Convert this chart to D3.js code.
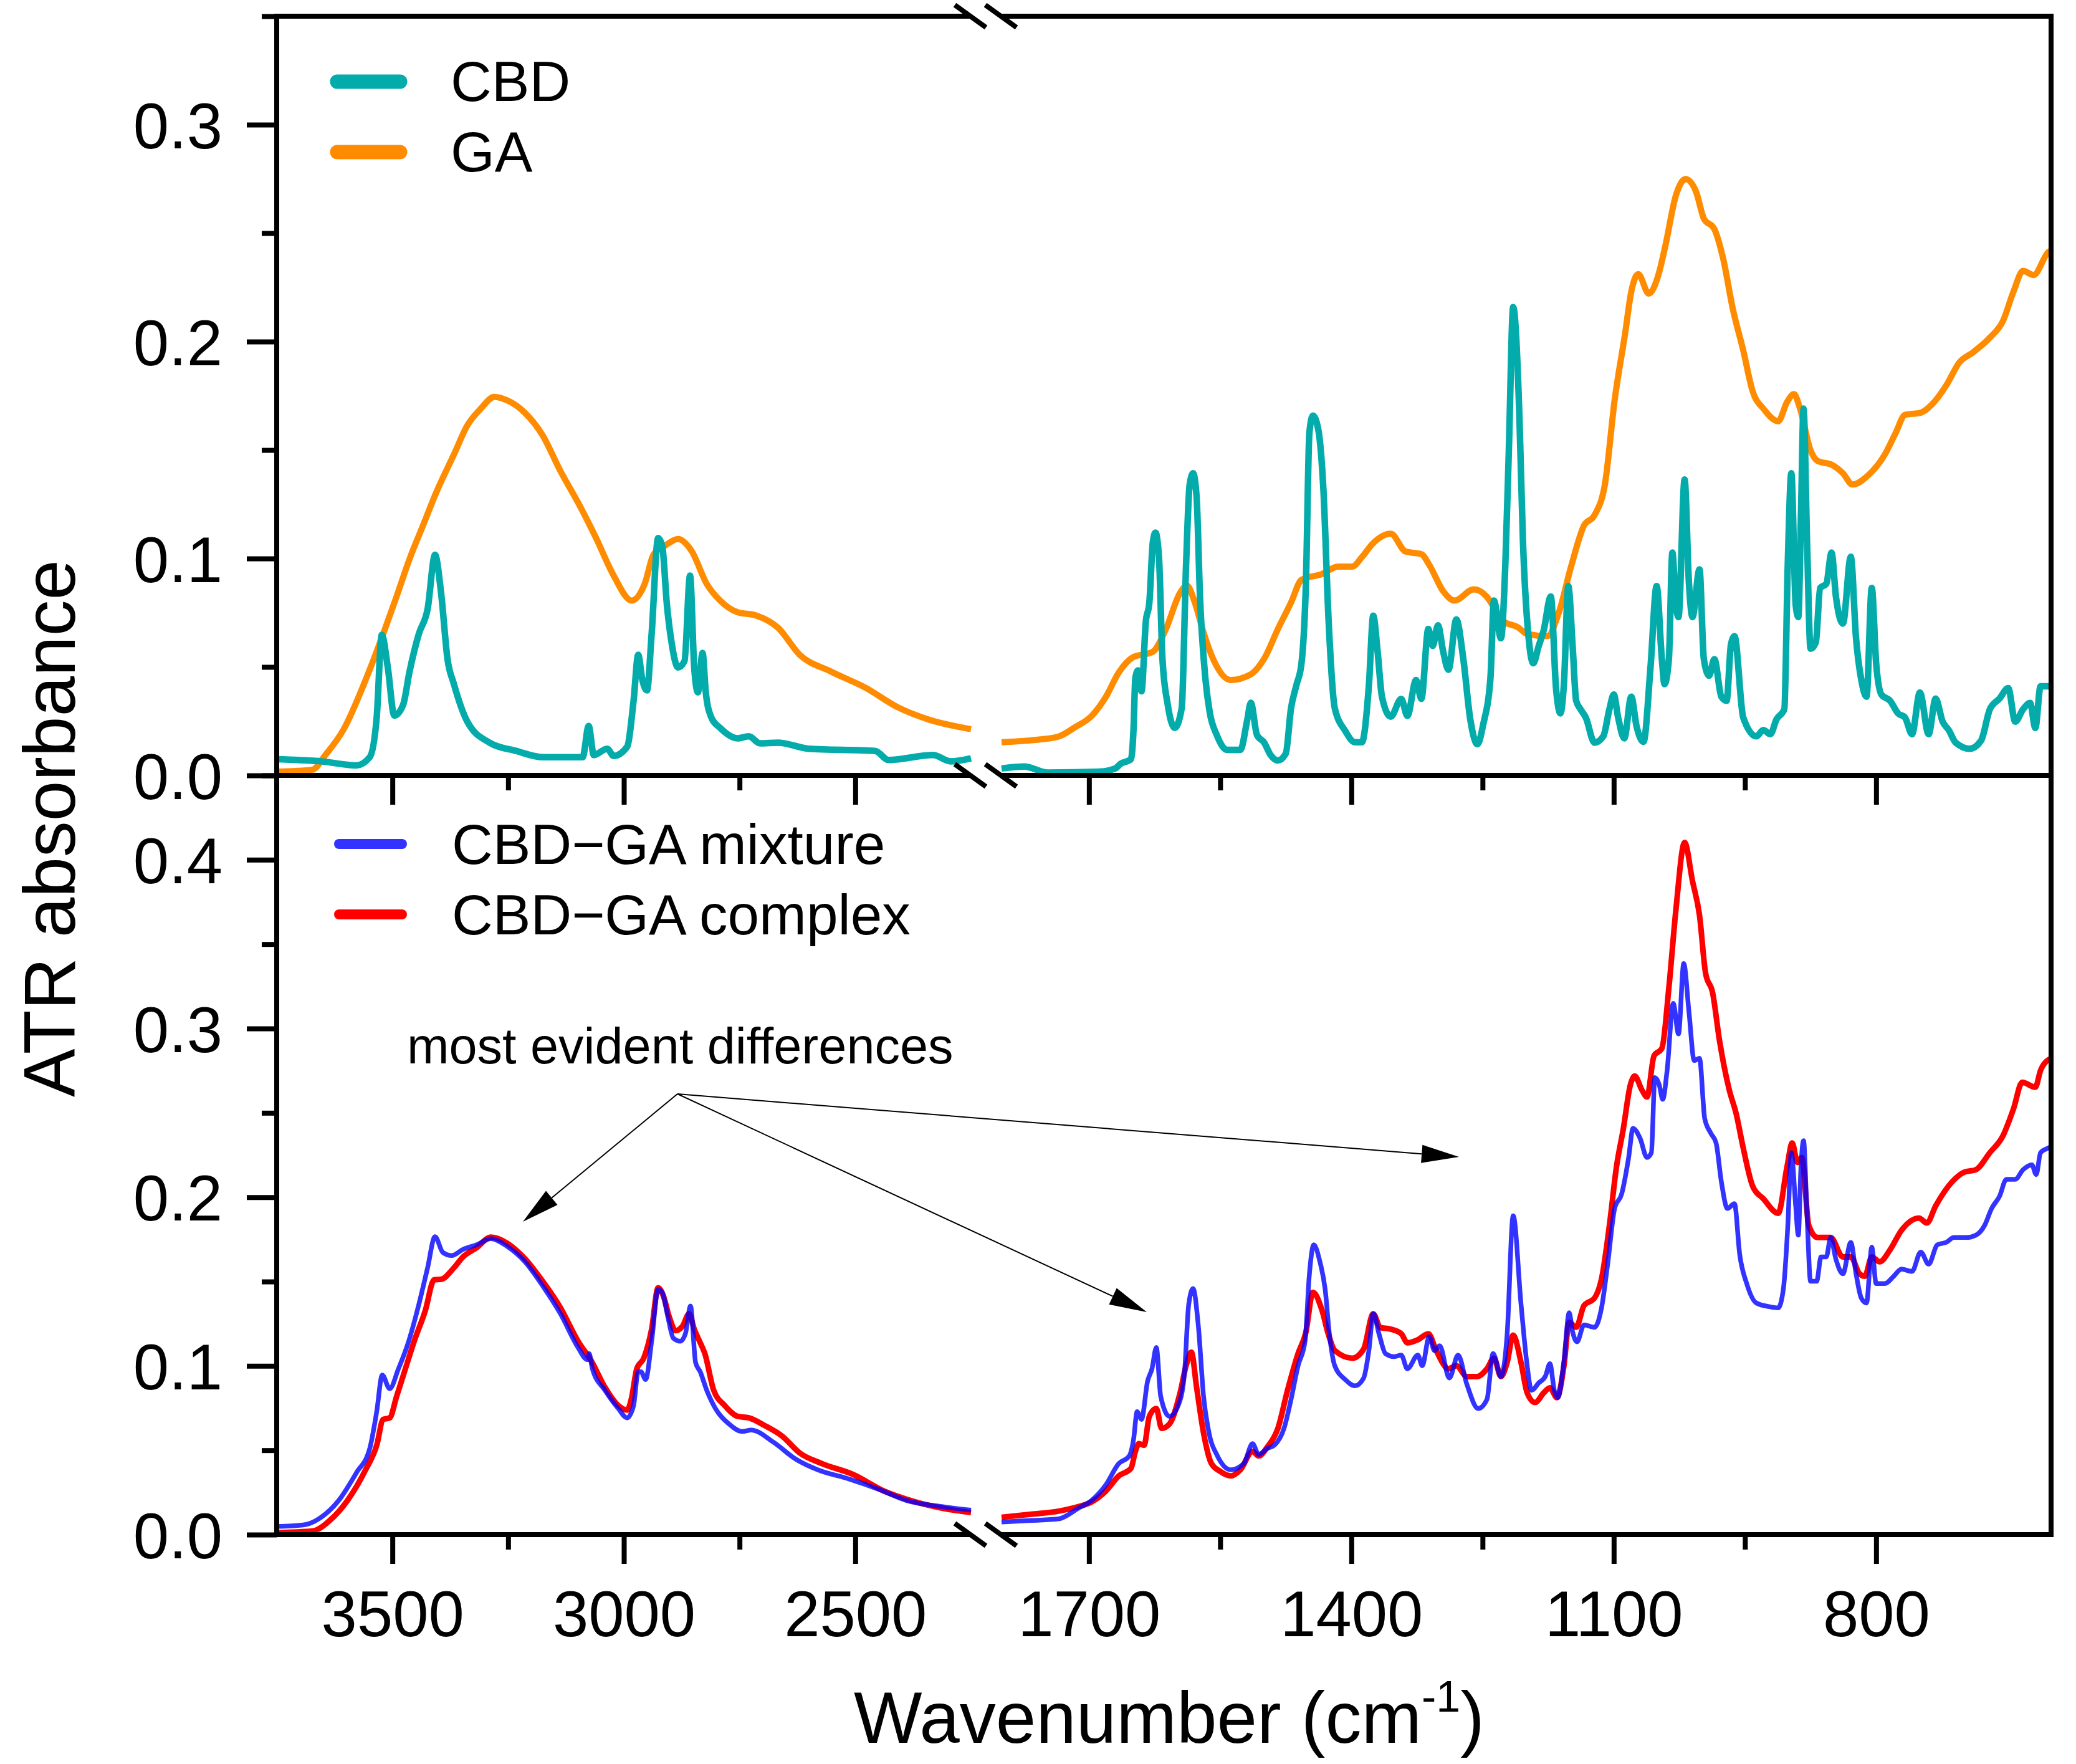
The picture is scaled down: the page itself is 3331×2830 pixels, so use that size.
<!DOCTYPE html>
<html>
<head>
<meta charset="utf-8">
<script src="https://cdn.jsdelivr.net/npm/d3@7/dist/d3.min.js"></script>
<style>
  body { margin: 0; background: #fff; }
  text { font-family: "Liberation Sans", Arial, sans-serif; fill: #000; }
</style>
</head>
<body>
<script>
// ---------------- DATA (wavenumber cm-1, ATR absorbance) ----------------
const cbd = [
[3750,0.0075],[3654,0.0065],[3578,0.0046],[3549,0.0084],[3534,0.0267],[3523,0.0648],[3510,0.0498],[3496,0.0276],[3477,0.0325],[3463,0.0479],[3443,0.0652],[3424,0.0767],[3408,0.1017],[3395,0.0844],[3381,0.0536],[3367,0.042],[3338,0.0247],[3290,0.0151],[3233,0.0113],[3175,0.0084],[3089,0.0084],[3076,0.0228],[3065,0.0094],[3036,0.0123],[3022,0.009],[2993,0.0132],[2979,0.0344],[2969,0.0556],[2960,0.044],[2950,0.0392],[2940,0.0652],[2926,0.1094],[2917,0.1056],[2907,0.0787],[2897,0.0614],[2883,0.0498],[2869,0.0527],[2857,0.0921],[2848,0.0498],[2840,0.0383],[2830,0.0565],[2823,0.0383],[2811,0.0267],[2792,0.0219],[2754,0.0171],[2730,0.018],[2706,0.0148],[2667,0.0151],[2600,0.0123],[2457,0.0113],[2428,0.0071],[2332,0.0094],[2294,0.0065],[2250,0.0079],
[1800,0.0032],[1774,0.0041],[1747,0.0013],[1689,0.0017],[1670,0.0032],[1664,0.0053],[1652,0.0075],[1649,0.0222],[1647,0.0449],[1644,0.0484],[1640,0.0388],[1635,0.071],[1631,0.0797],[1627,0.1076],[1624,0.1119],[1620,0.1006],[1616,0.0536],[1610,0.0327],[1602,0.0219],[1594,0.031],[1589,0.0971],[1585,0.1337],[1581,0.1393],[1577,0.1285],[1573,0.0814],[1567,0.0449],[1562,0.0292],[1554,0.0187],[1542,0.0118],[1527,0.0118],[1519,0.0257],[1515,0.0335],[1508,0.0187],[1500,0.0153],[1492,0.0092],[1484,0.0069],[1475,0.0101],[1469,0.031],[1463,0.0414],[1457,0.0518],[1452,0.0884],[1448,0.158],[1444,0.1659],[1438,0.1598],[1432,0.1319],[1426,0.071],[1419,0.031],[1407,0.0205],[1396,0.0153],[1388,0.0153],[1380,0.0414],[1375,0.0736],[1370,0.057],[1365,0.0362],[1355,0.0271],[1343,0.0353],[1336,0.0275],[1326,0.044],[1320,0.0353],[1312,0.0675],[1307,0.0597],[1301,0.0692],[1295,0.057],[1289,0.0487],[1280,0.0719],[1272,0.0536],[1264,0.0257],[1256,0.0144],[1249,0.024],[1241,0.0449],[1237,0.0806],[1229,0.0632],[1224,0.0971],[1220,0.1494],[1215,0.2159],[1208,0.167],[1204,0.11],[1197,0.062],[1192,0.0517],[1186,0.0594],[1180,0.0671],[1172,0.0825],[1166,0.0401],[1161,0.0286],[1157,0.0421],[1152,0.0873],[1147,0.0594],[1143,0.0344],[1138,0.0305],[1132,0.0267],[1122,0.0151],[1112,0.018],[1105,0.0305],[1100,0.0373],[1095,0.0267],[1088,0.0171],[1080,0.0363],[1074,0.0228],[1066,0.0155],[1058,0.0498],[1051,0.0873],[1045,0.0536],[1042,0.0421],[1037,0.0536],[1033,0.1027],[1029,0.0787],[1026,0.073],[1019,0.1364],[1014,0.0883],[1010,0.073],[1002,0.095],[997,0.0536],[991,0.046],[985,0.0536],[977,0.0363],[971,0.0344],[966,0.0604],[962,0.0642],[952,0.0267],[937,0.018],[929,0.0209],[921,0.019],[914,0.0258],[905,0.0305],[901,0.0979],[897,0.1393],[892,0.0787],[889,0.073],[886,0.1191],[883,0.1691],[879,0.1075],[875,0.0584],[869,0.0613],[864,0.0864],[857,0.0883],[851,0.1027],[846,0.0825],[838,0.07],[829,0.1008],[823,0.0633],[817,0.0441],[811,0.0363],[805,0.0864],[800,0.0517],[794,0.0373],[784,0.0344],[775,0.0286],[767,0.0267],[759,0.019],[750,0.0382],[740,0.019],[732,0.0354],[724,0.0248],[717,0.0209],[709,0.0151],[693,0.0123],[680,0.0161],[670,0.0305],[659,0.0354],[649,0.0402],[641,0.0248],[632,0.0305],[624,0.0334],[618,0.0219],[612,0.0411],[600,0.0411]
];
const ga = [
[3750,0.0017],[3673,0.0026],[3645,0.0094],[3606,0.021],[3558,0.044],[3520,0.0652],[3491,0.0825],[3463,0.0998],[3434,0.1152],[3405,0.1306],[3367,0.148],[3338,0.1614],[3309,0.1691],[3280,0.1745],[3252,0.1729],[3214,0.1672],[3175,0.1566],[3137,0.1403],[3099,0.1258],[3060,0.1094],[3022,0.0921],[2983,0.0806],[2955,0.0883],[2936,0.1017],[2907,0.1065],[2883,0.109],[2854,0.1036],[2821,0.0883],[2792,0.0806],[2754,0.0752],[2715,0.0738],[2667,0.0681],[2620,0.0556],[2553,0.0479],[2476,0.0402],[2409,0.0315],[2342,0.0258],[2250,0.0213],
[1800,0.0153],[1766,0.0162],[1735,0.0179],[1716,0.0222],[1697,0.0274],[1681,0.036],[1666,0.0474],[1650,0.0544],[1627,0.057],[1612,0.0675],[1596,0.0841],[1588,0.0875],[1579,0.0797],[1569,0.0658],[1558,0.0536],[1538,0.044],[1515,0.0466],[1500,0.0536],[1484,0.0675],[1469,0.0797],[1457,0.0902],[1434,0.0928],[1415,0.0963],[1399,0.0963],[1388,0.1006],[1376,0.1067],[1355,0.1114],[1338,0.1032],[1320,0.102],[1311,0.0971],[1295,0.0849],[1282,0.0806],[1260,0.0858],[1245,0.0823],[1235,0.0762],[1226,0.071],[1210,0.0684],[1199,0.0652],[1176,0.0642],[1163,0.0748],[1149,0.096],[1134,0.1152],[1122,0.12],[1110,0.1345],[1099,0.173],[1087,0.2038],[1080,0.223],[1072,0.2311],[1060,0.2221],[1049,0.2307],[1041,0.2442],[1029,0.2673],[1018,0.2749],[1006,0.2692],[997,0.2567],[985,0.2519],[975,0.2384],[964,0.2153],[952,0.196],[941,0.1768],[929,0.1691],[912,0.1633],[902,0.172],[894,0.1758],[887,0.1691],[875,0.1499],[867,0.145],[850,0.1431],[838,0.1393],[827,0.1341],[809,0.1384],[790,0.148],[778,0.1576],[767,0.1662],[749,0.1672],[736,0.1711],[720,0.1797],[705,0.1903],[689,0.1951],[670,0.2018],[655,0.2095],[643,0.223],[632,0.2326],[620,0.2307],[603,0.2413],[600,0.242]
];
const mixture = [
[3750,0.0048],[3693,0.0057],[3654,0.0103],[3616,0.0203],[3578,0.0366],[3549,0.0511],[3534,0.0729],[3522,0.0946],[3506,0.0865],[3487,0.0983],[3467,0.1128],[3443,0.1364],[3424,0.1582],[3408,0.1766],[3391,0.1672],[3372,0.1654],[3348,0.169],[3319,0.1717],[3287,0.1754],[3252,0.1708],[3214,0.1618],[3175,0.1473],[3137,0.1309],[3099,0.1109],[3079,0.1037],[3075,0.1073],[3068,0.0983],[3041,0.0856],[3012,0.0747],[2993,0.0692],[2979,0.0765],[2969,0.0965],[2963,0.0965],[2953,0.0919],[2940,0.1146],[2926,0.1454],[2917,0.1436],[2905,0.1291],[2893,0.1164],[2878,0.1146],[2867,0.1191],[2856,0.1355],[2845,0.1019],[2835,0.0965],[2821,0.0856],[2802,0.0747],[2773,0.0656],[2744,0.0611],[2725,0.062],[2677,0.0548],[2629,0.0448],[2581,0.0384],[2514,0.033],[2447,0.0266],[2390,0.0203],[2313,0.0166],[2250,0.0145],
[1800,0.0075],[1766,0.0084],[1735,0.0093],[1712,0.0157],[1697,0.0203],[1681,0.0293],[1666,0.0421],[1654,0.0466],[1649,0.0566],[1645,0.0729],[1640,0.0683],[1633,0.091],[1628,0.0983],[1623,0.1109],[1618,0.0819],[1608,0.0701],[1598,0.0765],[1591,0.0946],[1586,0.1364],[1581,0.1458],[1575,0.1237],[1569,0.0819],[1562,0.0584],[1554,0.0475],[1538,0.0384],[1523,0.0421],[1513,0.0539],[1506,0.0475],[1496,0.0511],[1488,0.053],[1477,0.063],[1469,0.0801],[1461,0.1001],[1453,0.1146],[1448,0.1545],[1443,0.1718],[1436,0.1618],[1430,0.1454],[1425,0.1182],[1419,0.1001],[1407,0.0919],[1396,0.0882],[1386,0.0928],[1380,0.1091],[1375,0.1309],[1368,0.1182],[1361,0.1073],[1351,0.1055],[1343,0.1064],[1336,0.0983],[1324,0.1064],[1319,0.1001],[1311,0.1173],[1305,0.1091],[1299,0.1119],[1288,0.0928],[1278,0.1064],[1268,0.0891],[1255,0.0747],[1245,0.0801],[1238,0.1073],[1229,0.0937],[1222,0.1182],[1215,0.189],[1206,0.1364],[1199,0.1],[1194,0.0855],[1186,0.0898],[1178,0.0941],[1173,0.1013],[1168,0.0855],[1164,0.0812],[1157,0.1027],[1151,0.1315],[1147,0.12],[1142,0.1143],[1134,0.1243],[1122,0.1229],[1114,0.1344],[1107,0.1602],[1099,0.1933],[1091,0.2019],[1083,0.2235],[1078,0.2408],[1070,0.235],[1062,0.2235],[1057,0.2264],[1053,0.2709],[1048,0.2666],[1044,0.258],[1039,0.2752],[1032,0.3149],[1026,0.2968],[1020,0.3385],[1014,0.3097],[1008,0.281],[1002,0.2824],[996,0.2465],[989,0.2379],[983,0.2321],[977,0.2092],[970,0.1933],[962,0.1962],[956,0.166],[948,0.1488],[937,0.1373],[921,0.135],[912,0.1344],[906,0.1459],[901,0.1832],[897,0.2264],[892,0.1947],[889,0.1775],[886,0.2177],[883,0.2335],[879,0.189],[875,0.1502],[868,0.1502],[863,0.1646],[857,0.1646],[852,0.1761],[846,0.1632],[838,0.1546],[829,0.1732],[823,0.1546],[817,0.1402],[811,0.1373],[805,0.1704],[800,0.1488],[790,0.1488],[780,0.1531],[771,0.1574],[759,0.156],[749,0.1675],[740,0.1603],[730,0.1718],[720,0.1732],[711,0.1761],[697,0.1761],[686,0.1775],[676,0.1833],[668,0.1933],[659,0.2005],[651,0.2106],[641,0.2106],[632,0.2163],[622,0.2192],[617,0.2134],[612,0.2264],[603,0.2292],[600,0.23]
];
const complex = [
[3750,0.0012],[3673,0.0021],[3635,0.0085],[3597,0.0203],[3558,0.0384],[3534,0.0529],[3520,0.0683],[3506,0.0692],[3491,0.0819],[3472,0.0983],[3453,0.1146],[3429,0.1328],[3410,0.151],[3394,0.1514],[3367,0.1582],[3348,0.1645],[3319,0.1699],[3287,0.1763],[3252,0.1727],[3214,0.1636],[3175,0.15],[3137,0.1345],[3099,0.1146],[3070,0.1028],[3041,0.0874],[3012,0.0765],[2993,0.0738],[2984,0.0802],[2972,0.0983],[2957,0.1046],[2940,0.1218],[2926,0.1463],[2915,0.1418],[2902,0.1291],[2888,0.1209],[2873,0.1237],[2859,0.1309],[2848,0.1218],[2835,0.1137],[2825,0.1073],[2806,0.0856],[2782,0.0765],[2754,0.0701],[2730,0.0692],[2696,0.0647],[2658,0.0584],[2620,0.0484],[2572,0.0421],[2505,0.0357],[2437,0.0257],[2370,0.0194],[2313,0.0157],[2250,0.013],
[1800,0.0103],[1766,0.0121],[1735,0.0139],[1712,0.0166],[1697,0.0194],[1681,0.0257],[1666,0.0348],[1652,0.0393],[1647,0.0493],[1643,0.0539],[1637,0.053],[1631,0.0701],[1623,0.0747],[1617,0.063],[1608,0.0656],[1596,0.0837],[1589,0.1001],[1583,0.1082],[1577,0.0874],[1569,0.0602],[1560,0.0421],[1550,0.0375],[1538,0.0348],[1527,0.0384],[1513,0.0493],[1506,0.0466],[1496,0.052],[1484,0.063],[1473,0.0856],[1461,0.1073],[1452,0.12],[1444,0.1436],[1434,0.1336],[1426,0.1182],[1419,0.1091],[1399,0.1046],[1386,0.11],[1375,0.1309],[1367,0.1227],[1355,0.1218],[1343,0.1191],[1336,0.1137],[1324,0.1155],[1312,0.1191],[1303,0.1091],[1289,0.0983],[1280,0.1001],[1268,0.0937],[1256,0.0937],[1245,0.0983],[1237,0.1046],[1229,0.0937],[1222,0.1019],[1215,0.1182],[1206,0.1019],[1199,0.084],[1190,0.0783],[1180,0.0841],[1173,0.087],[1165,0.0812],[1157,0.0999],[1151,0.1258],[1143,0.1229],[1134,0.1358],[1122,0.1402],[1114,0.1516],[1105,0.1832],[1097,0.2177],[1089,0.2408],[1081,0.2666],[1076,0.2718],[1068,0.2637],[1062,0.2594],[1054,0.2838],[1045,0.2882],[1037,0.3241],[1029,0.3701],[1019,0.4103],[1010,0.3874],[1002,0.3672],[995,0.3327],[987,0.3212],[979,0.2925],[968,0.2637],[960,0.2494],[952,0.2292],[941,0.2063],[929,0.1991],[912,0.1905],[902,0.2177],[896,0.2321],[890,0.2206],[885,0.2235],[877,0.1832],[867,0.1761],[852,0.1761],[838,0.1646],[829,0.1646],[819,0.1546],[813,0.1531],[805,0.1646],[796,0.1617],[784,0.1689],[771,0.1804],[751,0.1876],[742,0.1847],[732,0.1948],[713,0.2092],[699,0.2149],[686,0.2163],[670,0.2264],[655,0.2364],[643,0.2523],[633,0.2681],[618,0.2652],[612,0.2752],[603,0.2815],[600,0.282]
];

const xDomainLeft = [3750, 2250];
const xDomainRight = [1800, 600];
const xMajorLeft = [3500, 3000, 2500];
const xMinorLeft = [3250, 2750];
const xMajorRight = [1700, 1400, 1100, 800];
const xMinorRight = [1550, 1250, 950];
const yMajorTop = [0, 0.1, 0.2, 0.3];
const yMinorTop = [0.05, 0.15, 0.25, 0.35];
const yMajorBottom = [0, 0.1, 0.2, 0.3, 0.4];
const yMinorBottom = [0.05, 0.15, 0.25, 0.35, 0.45];
const topLegend = ["CBD", "GA"];
const bottomLegend = ["CBD\u2212GA mixture", "CBD\u2212GA complex"];
const annotationText = "most evident differences";

// ---------------- LAYOUT ----------------
const W = 3331, H = 2830;
const xL0 = 444, xL1 = 1558, xR0 = 1607, xR1 = 3291;
const yT0 = 26, yMid = 1244, yB1 = 2462;
const AX = 8;

const xLeft = d3.scaleLinear().domain(xDomainLeft).range([xL0, xL1]);
const xRight = d3.scaleLinear().domain(xDomainRight).range([xR0, xR1]);
const yTop = d3.scaleLinear().domain([0, 0.35]).range([yMid, yT0]);
const yBot = d3.scaleLinear().domain([0, 0.45]).range([yB1, yMid]);

const svg = d3.select("body").append("svg")
  .attr("width", W).attr("height", H)
  .attr("viewBox", `0 0 ${W} ${H}`);
svg.append("rect").attr("width", W).attr("height", H).attr("fill", "#fff");

const COL = { cbd: "#04ABAB", ga: "#FF8C00", mix: "#0000FF", cpx: "#FF0000" };

function drawSeries(data, ys, color, width, opacity) {
  const left = data.filter(d => d[0] >= 2250);
  const right = data.filter(d => d[0] <= 1800);
  [[left, xLeft], [right, xRight]].forEach(([seg, xs]) => {
    const line = d3.line().x(d => xs(d[0])).y(d => ys(d[1])).curve(d3.curveMonotoneX);
    svg.append("path").datum(seg).attr("d", line)
      .attr("fill", "none").attr("stroke", color).attr("stroke-width", width)
      .attr("stroke-linejoin", "round").attr("stroke-opacity", opacity);
  });
}

drawSeries(ga, yTop, COL.ga, 10, 1);
drawSeries(cbd, yTop, COL.cbd, 10.5, 1);
drawSeries(complex, yBot, COL.cpx, 9, 1);
drawSeries(mixture, yBot, COL.mix, 7.5, 0.8);

// ---------------- AXES ----------------
const fmt = d3.format(".1f");
function styleAxis(g) {
  g.select(".domain").remove();
  g.selectAll(".tick line").attr("stroke", "#000").attr("stroke-width", AX);
  g.selectAll(".tick text").attr("font-size", 103).attr("fill", "#000")
    .attr("font-family", '"Liberation Sans", Arial, sans-serif');
}

[[xLeft, xMajorLeft, xMinorLeft], [xRight, xMajorRight, xMinorRight]].forEach(([xs, maj, min]) => {
  svg.append("g").attr("transform", `translate(0,${yB1})`)
    .call(d3.axisBottom(xs).tickValues(maj).tickSize(47).tickPadding(43).tickFormat(d3.format("d")))
    .call(styleAxis);
  svg.append("g").attr("transform", `translate(0,${yB1})`)
    .call(d3.axisBottom(xs).tickValues(min).tickSize(24).tickFormat(""))
    .call(styleAxis);
  svg.append("g").attr("transform", `translate(0,${yMid})`)
    .call(d3.axisBottom(xs).tickValues(maj).tickSize(47).tickFormat(""))
    .call(styleAxis);
  svg.append("g").attr("transform", `translate(0,${yMid})`)
    .call(d3.axisBottom(xs).tickValues(min).tickSize(24).tickFormat(""))
    .call(styleAxis);
});

[[yTop, yMajorTop, yMinorTop], [yBot, yMajorBottom, yMinorBottom]].forEach(([ys, maj, min]) => {
  svg.append("g").attr("transform", `translate(${xL0},0)`)
    .call(d3.axisLeft(ys).tickValues(maj).tickSize(48).tickPadding(39).tickFormat(fmt))
    .call(styleAxis)
    .call(g => g.selectAll(".tick text").attr("dy", "0.36em"));
  svg.append("g").attr("transform", `translate(${xL0},0)`)
    .call(d3.axisLeft(ys).tickValues(min).tickSize(24).tickFormat(""))
    .call(styleAxis);
});

const frame = svg.append("g").attr("stroke", "#000").attr("stroke-width", AX).attr("fill", "none");
frame.append("line").attr("x1", xL0).attr("x2", xL0).attr("y1", yT0 - AX / 2).attr("y2", yB1 + AX / 2);
frame.append("line").attr("x1", xR1).attr("x2", xR1).attr("y1", yT0 - AX / 2).attr("y2", yB1 + AX / 2);
[yT0, yMid, yB1].forEach(y => {
  frame.append("line").attr("x1", xL0).attr("x2", xL1).attr("y1", y).attr("y2", y);
  frame.append("line").attr("x1", xR0).attr("x2", xR1 + AX / 2).attr("y1", y).attr("y2", y);
  [xL1 - 1, xR0 - 1].forEach(x => {
    frame.append("line").attr("x1", x - 25).attr("y1", y - 18).attr("x2", x + 25).attr("y2", y + 18);
  });
});

// ---------------- LEGENDS ----------------
const legTop = svg.append("g");
[[topLegend[0], COL.cbd, 131], [topLegend[1], COL.ga, 244]].forEach(([t, c, y]) => {
  legTop.append("line").attr("x1", 541).attr("x2", 642).attr("y1", y).attr("y2", y)
    .attr("stroke", c).attr("stroke-width", 23).attr("stroke-linecap", "round");
  legTop.append("text").attr("x", 723).attr("y", y + 31).attr("font-size", 91).text(t);
});
const legBot = svg.append("g");
[[bottomLegend[0], COL.mix, 1354, 0.8], [bottomLegend[1], COL.cpx, 1467, 1]].forEach(([t, c, y, o]) => {
  legBot.append("line").attr("x1", 544).attr("x2", 645).attr("y1", y).attr("y2", y)
    .attr("stroke", c).attr("stroke-opacity", o).attr("stroke-width", 16).attr("stroke-linecap", "round");
  legBot.append("text").attr("x", 725).attr("y", y + 32).attr("font-size", 91).text(t);
});

// ---------------- ANNOTATION ----------------
svg.append("text").attr("x", 653).attr("y", 1706).attr("font-size", 81).text(annotationText);
const origin = [1087, 1755];
const tips = [[839, 1960], [1840, 2105], [2341, 1856]];
tips.forEach(t => {
  const dx = t[0] - origin[0], dy = t[1] - origin[1];
  const L = Math.hypot(dx, dy), ux = dx / L, uy = dy / L;
  const hl = 60, hw = 14.5;
  const bx = t[0] - ux * hl, by = t[1] - uy * hl;
  svg.append("line").attr("x1", origin[0]).attr("y1", origin[1]).attr("x2", bx).attr("y2", by)
    .attr("stroke", "#000").attr("stroke-width", 2);
  svg.append("polygon")
    .attr("points", [[t[0], t[1]], [bx - uy * hw, by + ux * hw], [bx + uy * hw, by - ux * hw]].map(p => p.join(",")).join(" "))
    .attr("fill", "#000");
});

// ---------------- AXIS TITLES ----------------
svg.append("text").attr("transform", "translate(120,1329) rotate(-90)")
  .attr("text-anchor", "middle").attr("font-size", 116).text("ATR absorbance");
const xt = svg.append("text").attr("x", 1876).attr("y", 2796)
  .attr("text-anchor", "middle").attr("font-size", 116);
xt.append("tspan").text("Wavenumber (cm");
xt.append("tspan").attr("font-size", 70).attr("dy", -50).text("-1");
xt.append("tspan").attr("dy", 50).text(")");
</script>
</body>
</html>
